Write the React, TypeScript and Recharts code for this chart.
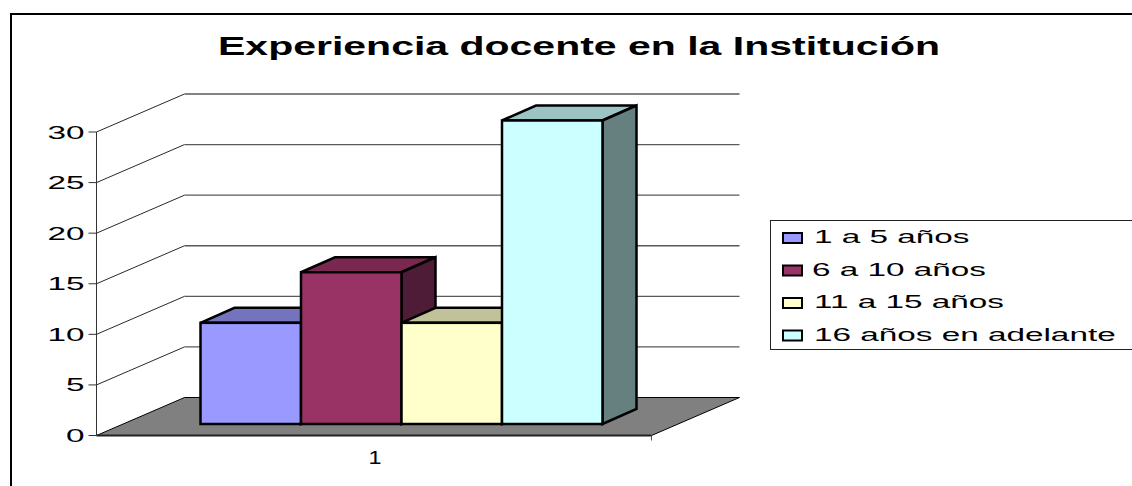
import { Bar, BarChart, CartesianGrid, Legend, XAxis, YAxis } from 'recharts'

const categories = ['1']
const seriesNames = ['1 a 5 años', '6 a 10 años', '11 a 15 años', '16 años en adelante']
const seriesValues = [10, 15, 10, 30]
const frontColors = ['#9999FF', '#993366', '#FFFFCC', '#CCFFFF']
const topColors = ['#7474BE', '#7A2850', '#C2C29A', '#9CC4C4']
const sideColors = ['#4D4D80', '#4F1C38', '#808066', '#668080']
const yTicks = [0, 5, 10, 15, 20, 25, 30]

const title = 'Experiencia docente en la Institución'

const rows = categories.map((category) => {
  const row: Record<string, string | number> = { category }
  seriesNames.forEach((name, i) => {
    row[name] = seriesValues[i]
  })
  return row
})

// the original is a stretched Excel 3D chart, so all labels are wider than tall
const FONT = '"Liberation Sans", Arial, sans-serif'
const STRETCH = 1.8

// wall depth of the fake 3D box, and where the bars stand inside it
const WALL_DX = 88
const WALL_DY = -38
const BAR_SHIFT_X = 27
const BAR_SHIFT_Y = -11.5
const BAR_DX = 34
const BAR_DY = -15
const FLOOR_Y = 435.5

function WideText({ x, y, text, size = 18.5, anchor = 'start', stretch = STRETCH }: any) {
  return (
    <text
      transform={`translate(${x},${y}) scale(${stretch},1)`}
      fontFamily={FONT}
      fontSize={size}
      fill="#000"
      textAnchor={anchor}
    >
      {text}
    </text>
  )
}

function GridLine({ x1, y1, x2 }: any) {
  const bx1 = x1 + WALL_DX
  const bx2 = x2 + WALL_DX
  const by = y1 + WALL_DY
  if (y1 >= FLOOR_Y - 1) {
    return (
      <g>
        <path d={`M${x1},${y1} L${bx1},${by} L${bx2},${by} L${x2},${y1} Z`} fill="#808080" stroke="none" />
        <path d={`M${x1},${y1} L${bx1},${by} L${bx2},${by} L${x2},${y1}`} fill="none" stroke="#000" />
        <path d={`M${x2},${y1} V${y1 + 5}`} stroke="#555" fill="none" />
      </g>
    )
  }
  return (
    <g>
      <path d={`M${x1},${y1} L${bx1},${by}`} fill="none" stroke="#111" strokeWidth={0.9} />
      <path d={`M${bx1},${by} L${bx2},${by}`} fill="none" stroke="#5a5a5a" strokeWidth={1.4} />
    </g>
  )
}

function Box3D({ x, y, width, height, seriesIndex }: any) {
  const l = x + BAR_SHIFT_X
  const r = l + width
  const t = y + BAR_SHIFT_Y
  const b = t + height
  return (
    <g stroke="#000" strokeWidth={2.5} strokeLinejoin="miter">
      <path
        d={`M${l},${t} L${l + BAR_DX},${t + BAR_DY} L${r + BAR_DX},${t + BAR_DY} L${r},${t} Z`}
        fill={topColors[seriesIndex]}
      />
      <path
        d={`M${r},${t} L${r + BAR_DX},${t + BAR_DY} L${r + BAR_DX},${b + BAR_DY} L${r},${b} Z`}
        fill={sideColors[seriesIndex]}
      />
      <rect x={l} y={t} width={width} height={height} fill={frontColors[seriesIndex]} />
    </g>
  )
}

function YTick({ x, y, payload }: any) {
  return <WideText x={x - 2} y={y + 6.5} text={payload.value} anchor="end" />
}

function XTick({ x, y, payload }: any) {
  return <WideText x={x + 1} y={y + 20} text={payload.value} size={18} stretch={1.3} anchor="middle" />
}

function BoxLegend({ payload }: any) {
  const rowsY = [243, 275.5, 308, 340.5]
  return (
    <svg width={1132} height={486} style={{ display: 'block' }}>
      <rect x={770.5} y={220.5} width={400} height={129} fill="#fff" stroke="#222" />
      {(payload ?? []).map((item: any, i: number) => (
        <g key={item.value}>
          <rect x={783} y={rowsY[i] - 10} width={19} height={10} fill={frontColors[i]} stroke="#000" strokeWidth={2} />
          <WideText x={i === 1 ? 812 : 814} y={rowsY[i]} text={item.value} />
        </g>
      ))}
    </svg>
  )
}

export default function App() {
  return (
    <div
      style={{
        position: 'absolute',
        left: 0,
        top: 0,
        width: 1132,
        height: 486,
        overflow: 'hidden',
        background: '#fff',
      }}
    >
      <BarChart
        width={1132}
        height={486}
        data={rows}
        margin={{ top: 132, right: 480.5, bottom: 20, left: 30 }}
        barGap={0}
        barSize={100.5}
      >
        <text
          x={579}
          y={55}
          fontFamily={FONT}
          fontWeight="bold"
          fontSize={26}
          textAnchor="middle"
          textLength={722}
          lengthAdjust="spacingAndGlyphs"
          fill="#000"
        >
          {title}
        </text>
        <CartesianGrid vertical={false} horizontal={(props: any) => <GridLine key={props.key} {...props} />} />
        <XAxis
          dataKey="category"
          height={30.5}
          axisLine={{ stroke: '#222', strokeWidth: 2 }}
          tickLine={false}
          tick={<XTick />}
        />
        <YAxis
          width={66.5}
          domain={[0, 30]}
          ticks={yTicks}
          interval={0}
          axisLine={{ stroke: '#333' }}
          tickLine={{ stroke: '#333' }}
          tickSize={8}
          tick={<YTick />}
        />
        {seriesNames.map((name, i) => (
          <Bar
            key={name}
            dataKey={name}
            name={name}
            fill={frontColors[i]}
            isAnimationActive={false}
            shape={<Box3D seriesIndex={i} />}
          />
        ))}
        <Legend
          layout="horizontal"
          verticalAlign="middle"
          align="center"
          itemSorter={null}
          content={<BoxLegend />}
          wrapperStyle={{ position: 'absolute', left: 0, top: 0, width: 1132, height: 486, pointerEvents: 'none' }}
        />
      </BarChart>
      <div
        style={{
          position: 'absolute',
          left: 10,
          top: 13,
          width: 2000,
          height: 1000,
          border: '2.5px solid #000',
          pointerEvents: 'none',
        }}
      />
    </div>
  )
}
